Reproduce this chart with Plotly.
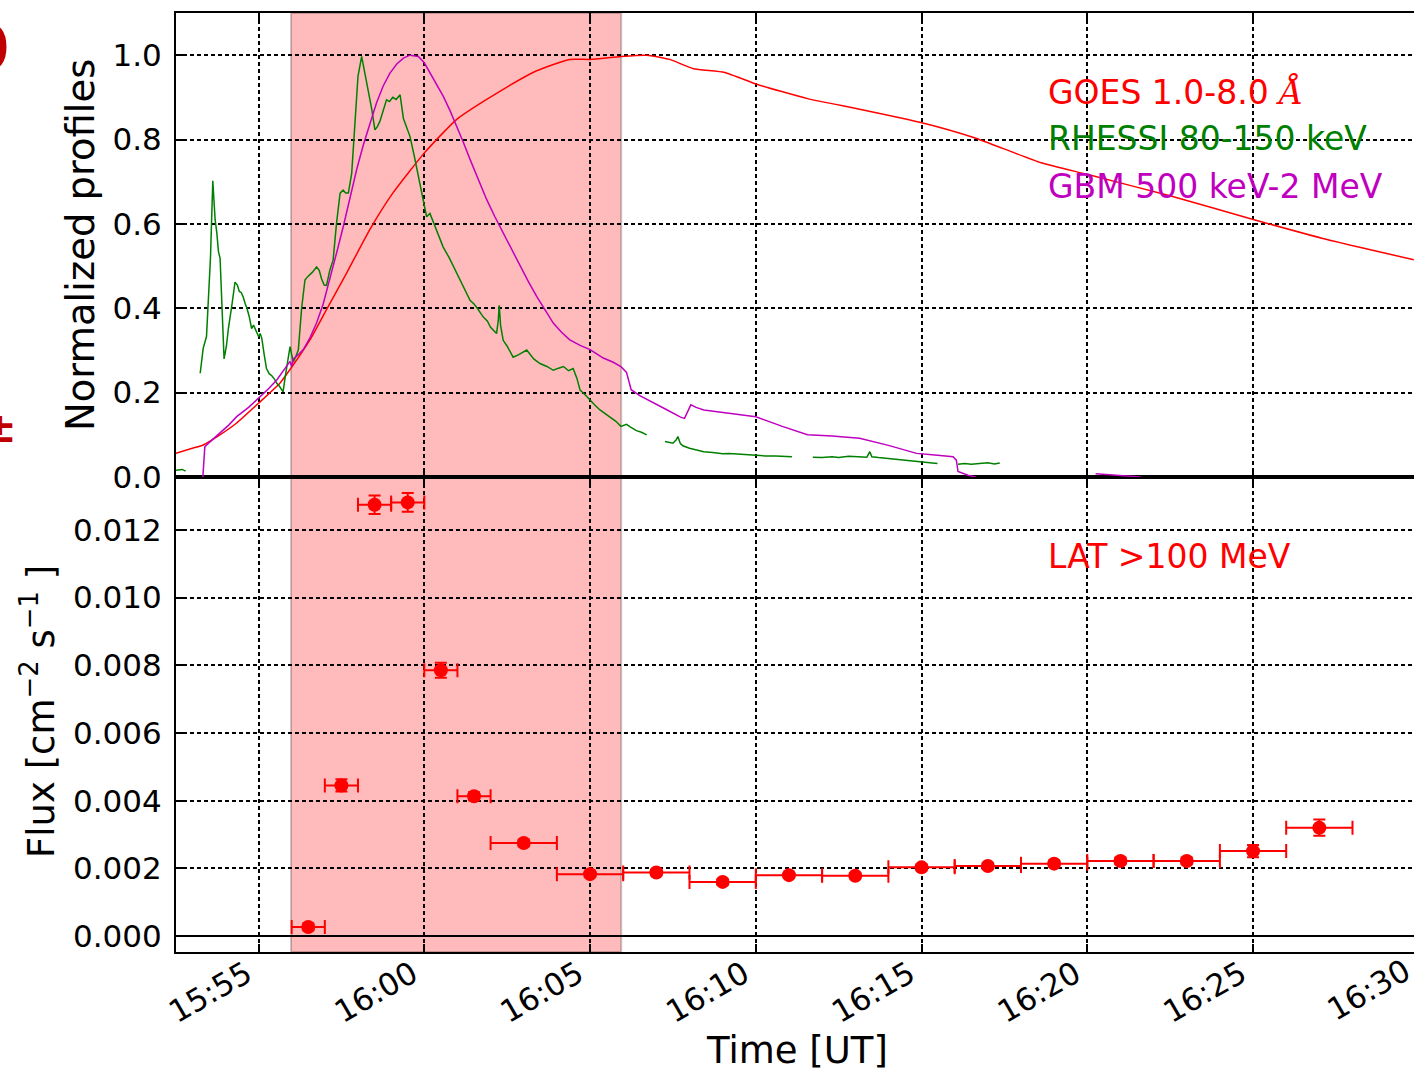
import plotly.graph_objects as go

# ---------------- data (time in minutes after 15:55 UT) ----------------
goes_t = [-2.49, -2.0, -1.67, -1.2, -0.66, 0.0, 0.65, 1.05, 1.55, 2.05, 2.66, 3.36, 4.06,
          5.01, 5.98, 7.38, 8.39, 9.39, 10.0, 10.94, 11.71, 12.4, 13.12, 14.06, 15.03,
          16.56, 18.13, 20.01, 21.57, 23.61, 25.02, 27.52, 30.03, 32.23, 34.85]
goes_v = [0.056, 0.068, 0.076, 0.098, 0.128, 0.175, 0.223, 0.266, 0.325, 0.397, 0.484,
          0.587, 0.674, 0.769, 0.848, 0.919, 0.963, 0.990, 0.990, 0.997, 1.000, 0.990,
          0.968, 0.959, 0.931, 0.897, 0.872, 0.840, 0.805, 0.745, 0.717, 0.666, 0.610,
          0.563, 0.515]

rhessi_t = [-2.49, -2.3, -2.2, None,
            -1.76, -1.67, -1.57, -1.45, -1.38, -1.34, -1.31, -1.26, -1.21, -1.16, -1.1,
            -1.04, -0.97, -0.91, -0.8, -0.71, -0.64, -0.58, -0.52, -0.46, -0.40, -0.35,
            -0.28, -0.21, -0.15, -0.08, 0.0, 0.05, 0.1, 0.17, 0.24, 0.32, 0.4, 0.48, 0.55,
            0.63, 0.74, 0.8, 0.85, 0.9, 0.95, 1.0, 1.05, 1.12, 1.2, 1.3, 1.4, 1.48, 1.55,
            1.62, 1.75, 1.83, 1.9, 1.98, 2.05, 2.15, 2.25, 2.35, 2.46, 2.55, 2.63, 2.71,
            2.81, 2.9, 3.0, 3.11, 3.2, 3.31, 3.42, 3.51, 3.58, 3.66, 3.76, 3.86, 3.95,
            4.05, 4.15, 4.27, 4.37, 4.47, 4.57, 4.7, 4.82, 4.95, 5.07, 5.17, 5.27, 5.42,
            5.57, 5.75, 5.98, 6.15, 6.38, 6.5, 6.6, 6.78, 6.9, 7.0, 7.18, 7.23, 7.26, 7.3,
            7.38, 7.5, 7.68, 7.85, 8.0, 8.09, 8.3, 8.49, 8.7, 8.89, 9.05, 9.2, 9.35, 9.49,
            9.6, 9.7, 9.85, 10.0, 10.15, 10.3, 10.45, 10.6, 10.78, 10.93, 11.1, 11.21,
            11.4, 11.55, 11.71, None,
            12.26, 12.4, 12.5, 12.6, 12.65, 12.72, 12.8, 13.0, 13.2, 13.43, 13.7, 14.0,
            14.2, 14.5, 14.8, 15.0, 15.3, 15.6, 15.85, 16.09, None,
            16.72, 17.0, 17.3, 17.5, 17.8, 18.1, 18.35, 18.44, 18.5, 18.7, 19.0, 19.4,
            19.8, 20.1, 20.48, None,
            21.1, 21.3, 21.5, 21.7, 22.0, 22.2, 22.36]
rhessi_v = [0.016, 0.018, 0.014, None,
            0.246, 0.305, 0.333, 0.52, 0.702, 0.64, 0.610, 0.58, 0.535, 0.518, 0.39,
            0.280, 0.31, 0.352, 0.41, 0.462, 0.455, 0.440, 0.437, 0.426, 0.41, 0.400,
            0.38, 0.352, 0.36, 0.345, 0.333, 0.34, 0.328, 0.29, 0.257, 0.245, 0.240, 0.232,
            0.222, 0.215, 0.202, 0.235, 0.260, 0.29, 0.309, 0.29, 0.273, 0.285, 0.301,
            0.40, 0.467, 0.475, 0.480, 0.485, 0.498, 0.49, 0.470, 0.455, 0.454, 0.49,
            0.514, 0.60, 0.673, 0.68, 0.673, 0.673, 0.720, 0.84, 0.95, 0.997, 0.96, 0.918,
            0.87, 0.823, 0.83, 0.843, 0.87, 0.894, 0.89, 0.900, 0.895, 0.906, 0.850,
            0.828, 0.807, 0.76, 0.712, 0.66, 0.617, 0.625, 0.605, 0.575, 0.545, 0.52,
            0.482, 0.455, 0.419, 0.41, 0.400, 0.379, 0.37, 0.355, 0.340, 0.37, 0.407,
            0.36, 0.324, 0.31, 0.284, 0.29, 0.296, 0.301, 0.28, 0.269, 0.262, 0.253,
            0.258, 0.262, 0.252, 0.257, 0.235, 0.206, 0.195, 0.182, 0.17, 0.159, 0.15,
            0.143, 0.132, 0.120, 0.125, 0.119, 0.11, 0.106, 0.100, None,
            0.084, 0.082, 0.080, 0.088, 0.096, 0.08, 0.074, 0.068, 0.064, 0.060, 0.058,
            0.055, 0.056, 0.054, 0.052, 0.052, 0.050, 0.050, 0.049, 0.048, None,
            0.047, 0.046, 0.048, 0.046, 0.049, 0.048, 0.047, 0.060, 0.048, 0.046, 0.044,
            0.040, 0.038, 0.035, 0.032, None,
            0.030, 0.032, 0.030, 0.031, 0.034, 0.031, 0.033]

gbm_t = [-1.68, -1.62, -1.4, -1.16, -0.9, -0.66, -0.3, 0.0, 0.3, 0.55, 0.75, 0.95, 1.0,
         1.05, 1.2, 1.35, 1.55, 1.75, 1.95, 2.15, 2.35, 2.56, 2.76, 2.96, 3.16, 3.36,
         3.56, 3.76, 3.96, 4.17, 4.37, 4.57, 4.82, 5.0, 5.17, 5.37, 5.57, 5.78, 5.98,
         6.18, 6.38, 6.63, 6.88, 7.13, 7.38, 7.63, 7.89, 8.14, 8.39, 8.64, 8.89, 9.14,
         9.39, 9.7, 10.0, 10.2, 10.4, 10.7, 10.93, 11.1, 11.24, 11.5, 11.86, 12.3, 12.73,
         12.85, 13.04, 13.2, 13.43, 14.2, 15.0, 15.8, 16.56, 17.3, 18.13, 19.0, 19.85,
         20.4, 20.95, 21.05, 21.1, 21.4, 21.64, None, 25.25, 26.0, 26.6]
gbm_v = [0.0, 0.072, 0.088, 0.104, 0.123, 0.143, 0.165, 0.187, 0.209, 0.230, 0.251,
         0.274, 0.262, 0.280, 0.290, 0.302, 0.330, 0.365, 0.410, 0.468, 0.530, 0.595,
         0.663, 0.729, 0.787, 0.840, 0.887, 0.927, 0.957, 0.979, 0.993, 1.000, 0.997,
         0.982, 0.959, 0.933, 0.903, 0.868, 0.832, 0.793, 0.753, 0.705, 0.658, 0.617,
         0.579, 0.539, 0.500, 0.463, 0.428, 0.395, 0.365, 0.343, 0.325, 0.312, 0.302,
         0.292, 0.282, 0.272, 0.262, 0.248, 0.207, 0.193, 0.179, 0.160, 0.142, 0.139,
         0.171, 0.165, 0.159, 0.152, 0.143, 0.120, 0.100, 0.097, 0.092, 0.075, 0.056,
         0.052, 0.048, 0.040, 0.013, 0.004, 0.0, None, 0.008, 0.004, 0.0]

lat_t = [1.5, 2.5, 3.5, 4.5, 5.5, 6.5, 8, 10, 12, 14, 16, 18, 20, 22, 24, 26, 28, 30, 32]
lat_dt = [0.5, 0.5, 0.5, 0.5, 0.5, 0.5, 1, 1, 1, 1, 1, 1, 1, 1, 1, 1, 1, 1, 1]
lat_flux = [0.00027, 0.00445, 0.01274, 0.01281, 0.00785, 0.00413, 0.00275, 0.00183,
            0.00188, 0.00160, 0.00180, 0.00178, 0.00203, 0.00207, 0.00214, 0.00222,
            0.00222, 0.00251, 0.00320]
lat_err = [0.00010, 0.00018, 0.00027, 0.00028, 0.00022, 0.00012, 0.00010, 0.00008,
           0.00009, 0.00008, 0.00008, 0.00008, 0.00009, 0.00009, 0.00009, 0.00010,
           0.00010, 0.00018, 0.00024]

span_t = [0.98, 10.94]           # shaded interval
tick_t = [0, 5, 10, 15, 20, 25, 30, 35]
tick_lbl = ["15:55", "16:00", "16:05", "16:10", "16:15", "16:20", "16:25", "16:30"]

# ---------------- geometry helpers ----------------
W, H = 1414, 1069
L, R, T, B = 176, 1414, 13, 952          # plot area in pixels
def px(X):
    return (X - L) / (R - L)
def py(Y):
    return (B - Y) / (B - T)

FONT = "DejaVu Sans"
split = py(477)
x0 = -2.49
x1 = x0 + (R - L) / 33.15

fig = go.Figure()

fig.add_trace(go.Scatter(x=goes_t, y=goes_v, mode="lines", xaxis="x2", yaxis="y2",
                         line=dict(color="#ff0000", width=1.5, shape="spline",
                                   smoothing=0.5), showlegend=False))
fig.add_trace(go.Scatter(x=rhessi_t, y=rhessi_v, mode="lines", xaxis="x2", yaxis="y2",
                         line=dict(color="#008000", width=1.5), showlegend=False,
                         connectgaps=False))
fig.add_trace(go.Scatter(x=gbm_t, y=gbm_v, mode="lines", xaxis="x2", yaxis="y2",
                         line=dict(color="#bf00bf", width=1.5), showlegend=False,
                         connectgaps=False))

fig.add_trace(go.Scatter(
    x=lat_t, y=lat_flux, mode="markers", xaxis="x", yaxis="y",
    marker=dict(color="#ff0000", size=14),
    error_x=dict(type="data", array=lat_dt, color="#ff0000", thickness=2, width=7),
    error_y=dict(type="data", array=lat_err, color="#ff0000", thickness=2, width=6),
    showlegend=False))

grid = dict(showgrid=True, gridcolor="black", gridwidth=1.5, griddash="4px,3px")
axis_common = dict(showline=True, linecolor="black", linewidth=2, ticks="inside",
                   ticklen=8, tickwidth=1.5, tickcolor="black",
                   tickfont=dict(family=FONT, size=31, color="black"))

fig.update_layout(
    width=W, height=H,
    margin=dict(l=L, r=W - R, t=T, b=H - B),
    paper_bgcolor="white", plot_bgcolor="white",
    xaxis=dict(domain=[0, 1], anchor="y", range=[x0, x1], tickvals=tick_t,
               ticktext=tick_lbl, tickangle=-30, mirror="ticks", zeroline=False,
               ticklabelshift=-12, ticklabelstandoff=-10,
               **grid, **axis_common),
    xaxis2=dict(domain=[0, 1], anchor="y2", range=[x0, x1], matches="x",
                tickvals=tick_t, showticklabels=False, mirror="ticks", zeroline=False,
                **grid, **axis_common),
    yaxis=dict(domain=[0, split], anchor="x", range=[-0.00047, 0.01356],
               tickvals=[0, 0.002, 0.004, 0.006, 0.008, 0.010, 0.012],
               tickformat=".3f", zeroline=True, zerolinecolor="black", zerolinewidth=2,
               ticklabelstandoff=6, **grid, **axis_common),
    yaxis2=dict(domain=[split, 1], anchor="x2", range=[0, 1.1],
                tickvals=[0, 0.2, 0.4, 0.6, 0.8, 1.0], tickformat=".1f", zeroline=False,
                ticklabelstandoff=6, **grid, **axis_common),
)

# shaded interval in both panels
for yr in ["y domain", "y2 domain"]:
    fig.add_shape(type="rect", xref="x", yref=yr, x0=span_t[0], x1=span_t[1], y0=0, y1=1,
                  fillcolor="#ffbbbb", line=dict(color="rgba(0,0,0,0.22)", width=2),
                  layer="below")

ann = []
def text(s, X, Y, size, color="black", angle=0, xanchor="center", **kw):
    ann.append(dict(text=s, x=px(X), y=py(Y), xref="paper", yref="paper",
                    showarrow=False, xanchor=xanchor, yanchor="middle", textangle=angle,
                    font=dict(family=kw.get("family", FONT), size=size, color=color)))

text("GOES 1.0-8.0 <i><span style='font-family:DejaVu Serif'>Å</span></i>", 1046, 92, 33,
     "#ff0000", xanchor="left")
text("RHESSI 80-150 keV", 1046, 139, 33, "#008000", xanchor="left")
text("GBM 500 keV-2 MeV", 1046, 186, 33, "#bf00bf", xanchor="left")
text("LAT >100 MeV", 1046, 556, 33, "#ff0000", xanchor="left")

text("Normalized profiles", 80, 245, 38.5, angle=-90)
text("Flux [cm<sup>−2</sup> s<sup>−1</sup> ]", 38, 712, 37, angle=-90)
text("Time [UT]", 797, 1050, 37)
text("16:30", 1368, 990, 31, angle=-30)

# fragments of neighbouring labels at the left border
text("<b>0</b>", 12, 48, 64, "#c00000", xanchor="right")
text("<b>±</b>", 0, 428, 40, "#c00000")

fig.update_layout(annotations=ann)

fig.write_html("out.html")
